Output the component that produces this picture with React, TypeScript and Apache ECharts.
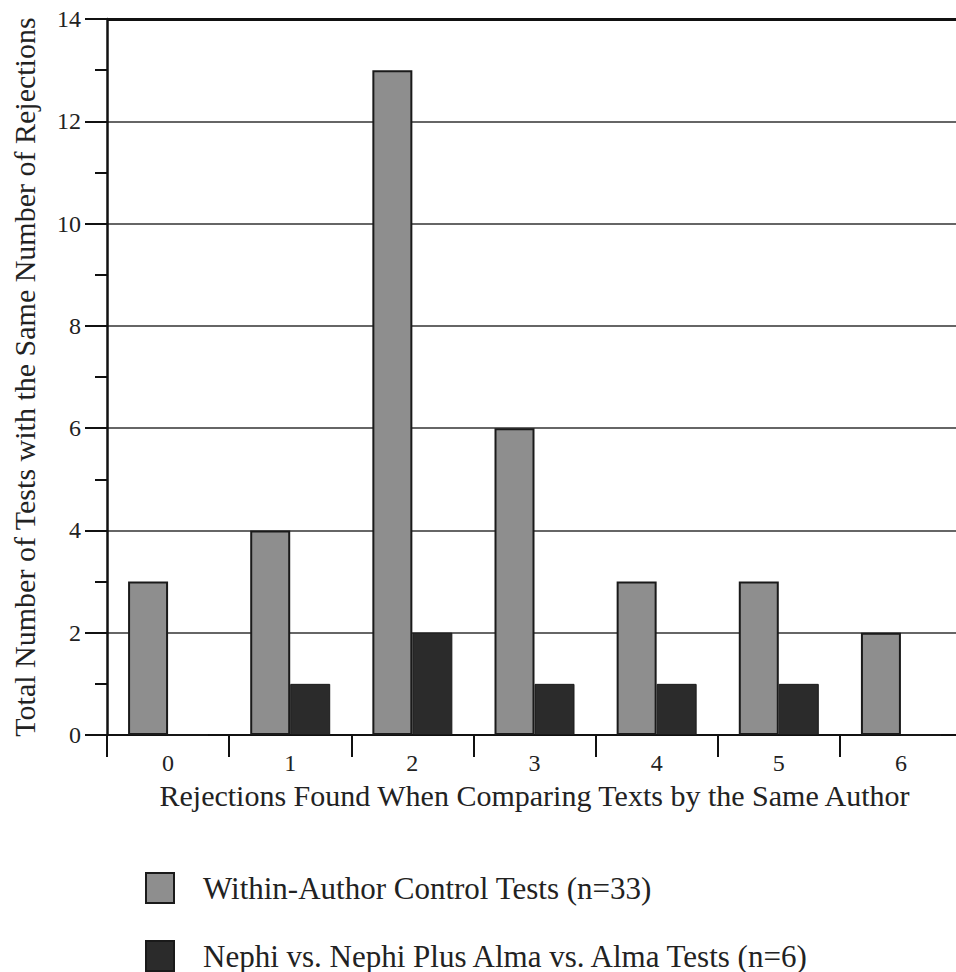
import React, { useEffect, useRef } from "react";
import * as echarts from "echarts";

const categories = ["0", "1", "2", "3", "4", "5", "6"];
const withinAuthor = [3, 4, 13, 6, 3, 3, 2];
const nephiAlma = [0, 1, 2, 1, 1, 1, 0];
const seriesNames = [
  "Within-Author Control Tests (n=33)",
  "Nephi vs. Nephi Plus Alma vs. Alma Tests (n=6)",
];
const xTitle = "Rejections Found When Comparing Texts by the Same Author";
const yTitle = "Total Number of Tests with the Same Number of Rejections";
const yMax = 14;

export default function App() {
  const ref = useRef<HTMLDivElement>(null);
  useEffect(() => {
    if (!ref.current) return;
    const chart = echarts.init(ref.current, null, { renderer: "svg" });
    const font = "Liberation Serif";
    chart.setOption({
      animation: false,
      backgroundColor: "#ffffff",
      textStyle: { fontFamily: font },
      grid: {
        left: 107,
        top: 19,
        bottom: 237,
        right: -6,
        containLabel: false,
        outerBoundsMode: "none",
      },
      legend: {
        orient: "vertical",
        left: 145,
        top: 872,
        padding: 0,
        itemWidth: 28,
        itemHeight: 30,
        itemGap: 36,
        icon: "rect",
        data: seriesNames,
        textStyle: {
          fontFamily: font,
          fontSize: 31,
          color: "#222",
          padding: [0, 0, 0, 24],
        },
      },
      xAxis: {
        type: "category",
        data: categories,
        name: xTitle,
        nameLocation: "middle",
        nameGap: 45,
        nameTextStyle: { fontFamily: font, fontSize: 30, color: "#222" },
        axisLine: { lineStyle: { color: "#111", width: 2 } },
        axisTick: { show: true, length: 22, lineStyle: { color: "#111", width: 2 } },
        axisLabel: { fontFamily: font, fontSize: 24, color: "#222", margin: 16 },
      },
      yAxis: {
        type: "value",
        min: 0,
        max: yMax,
        interval: 2,
        name: yTitle,
        nameLocation: "middle",
        nameGap: 68,
        nameRotate: 90,
        nameTextStyle: { fontFamily: font, fontSize: 30, color: "#222" },
        axisLine: { show: true, lineStyle: { color: "#111", width: 2.5 } },
        axisTick: { show: true, length: 22, lineStyle: { color: "#111", width: 2 } },
        minorTick: { show: true, splitNumber: 2, length: 12, lineStyle: { color: "#111", width: 2 } },
        axisLabel: { fontFamily: font, fontSize: 24, color: "#222", margin: 26 },
        splitLine: { show: true, lineStyle: { color: "#333", width: 1.5 } },
      },
      series: [
        {
          name: seriesNames[0],
          type: "bar",
          data: withinAuthor,
          barWidth: 40,
          barGap: "0%",
          itemStyle: { color: "#8e8e8e", borderColor: "#1a1a1a", borderWidth: 2 },
          markLine: {
            silent: true,
            symbol: "none",
            label: { show: false },
            lineStyle: { color: "#111", width: 3, type: "solid" },
            data: [{ yAxis: yMax }],
          },
        },
        {
          name: seriesNames[1],
          type: "bar",
          data: nephiAlma,
          barWidth: 40,
          itemStyle: { color: "#2b2b2b", borderColor: "#1a1a1a", borderWidth: 1 },
        },
      ],
    });
    return () => chart.dispose();
  }, []);
  return (
    <div
      ref={ref}
      style={{ position: "absolute", left: 0, top: 0, width: 956, height: 972 }}
    />
  );
}
